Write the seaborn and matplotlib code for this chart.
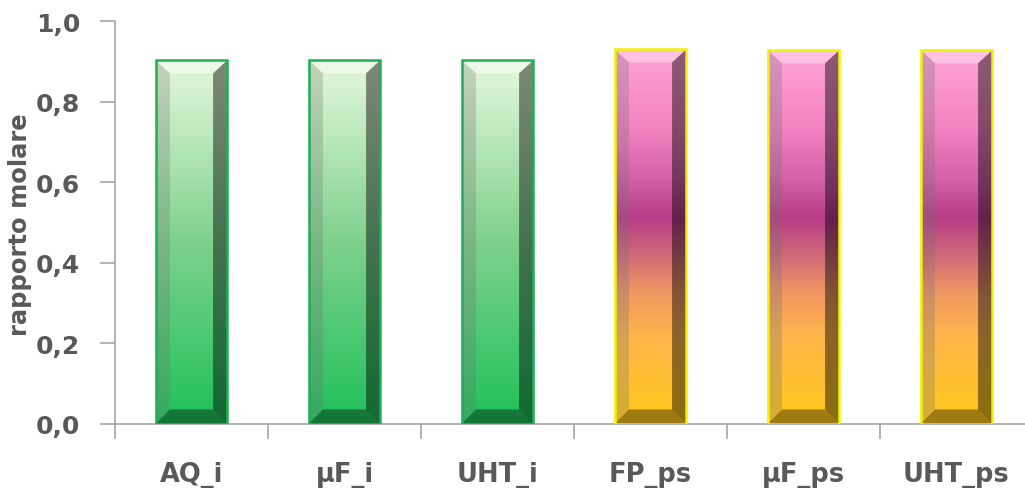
import numpy as np
import pandas as pd
import seaborn as sns
import matplotlib.pyplot as plt
from matplotlib.colors import LinearSegmentedColormap
from matplotlib.patches import Polygon, Rectangle
from matplotlib.ticker import FixedLocator, FuncFormatter

# data
categories = ["AQ_i", "µF_i", "UHT_i", "FP_ps", "µF_ps", "UHT_ps"]
values = [0.903, 0.903, 0.903, 0.930, 0.928, 0.928]
groups = ["i", "i", "i", "ps", "ps", "ps"]

df = pd.DataFrame({"campione": categories, "rapporto": values})

green_cmap = LinearSegmentedColormap.from_list(
    "verde", [(0.0, "#1ec05a"), (0.5, "#7ed18d"), (1.0, "#e6f8dc")])
pink_cmap = LinearSegmentedColormap.from_list(
    "rosa", [(0.0, "#ffc818"), (0.23, "#ffb64a"), (0.35, "#f09862"),
             (0.45, "#d06a78"), (0.55, "#b83c88"), (0.66, "#d562aa"),
             (0.79, "#f282c2"), (1.0, "#ffa4d6")])
edge_col = {"i": "#1db055", "ps": "#f2f200"}
cmaps = {"i": green_cmap, "ps": pink_cmap}

sns.set_style("white")
plt.rcParams['font.family'] = ['DejaVu Sans']
txt = "#595959"

fig = plt.figure(figsize=(10.25, 4.89), dpi=100)
# plot area runs a little past the right edge, as in the reference
ax = fig.add_axes([0.1122, 0.131, 0.8956, 0.824])

sns.barplot(data=df, x="campione", y="rapporto", width=0.47, ax=ax,
            color="white", saturation=1, errorbar=None)

grad = np.linspace(0, 1, 256).reshape(-1, 1)
for p, g in zip(ax.patches, groups):
    x0, w, h = p.get_x(), p.get_width(), p.get_height()
    x1 = x0 + w
    p.set_facecolor("none")
    p.set_edgecolor(edge_col[g])
    p.set_linewidth(1.8)
    p.set_zorder(5)
    im = ax.imshow(grad, cmap=cmaps[g], origin="lower", aspect="auto",
                   extent=(x0, x1, 0, h), zorder=2)
    clip = Rectangle((x0, 0), w, h, transform=ax.transData)
    im.set_clip_path(clip)
    dx, dy_top, dy_bot = w * 0.2, 0.033, 0.036
    bevels = [
        ([(x0, h), (x1, h), (x1 - dx, h - dy_top), (x0 + dx, h - dy_top)], "white", 0.35),
        ([(x0, 0), (x0, h), (x0 + dx, h - dy_top), (x0 + dx, dy_bot)], "#707070", 0.28),
        ([(x1, 0), (x1, h), (x1 - dx, h - dy_top), (x1 - dx, dy_bot)], "black", 0.45),
        ([(x0, 0), (x1, 0), (x1 - dx, dy_bot), (x0 + dx, dy_bot)], "black", 0.38),
    ]
    for pts, c, a in bevels:
        ax.add_patch(Polygon(pts, closed=True, facecolor=c, alpha=a,
                             edgecolor="none", zorder=3))

ax.set_xlim(-0.5, len(categories) - 0.5)
ax.set_ylim(0, 1.0)
ax.yaxis.set_major_locator(FixedLocator([0, 0.2, 0.4, 0.6, 0.8, 1.0]))
ax.yaxis.set_major_formatter(FuncFormatter(lambda v, _: f"{v:.1f}".replace(".", ",")))
ax.xaxis.set_minor_locator(FixedLocator(np.arange(-0.5, len(categories), 1.0)))

for s in ["top", "right"]:
    ax.spines[s].set_visible(False)
for s in ["left", "bottom"]:
    ax.spines[s].set_color("#a6a6a6")
    ax.spines[s].set_linewidth(1.2)

ax.tick_params(axis="y", left=True, length=11, width=1.2, color="#a6a6a6",
               labelsize=18, labelcolor=txt, pad=14)
ax.tick_params(axis="x", which="major", bottom=False, labelsize=18.5,
               labelcolor=txt, pad=23)
ax.tick_params(axis="x", which="minor", bottom=True, length=11, width=1.2,
               color="#a6a6a6")
for lab in ax.get_xticklabels() + ax.get_yticklabels():
    lab.set_fontweight("bold")

ax.set_xlabel("")
ax.set_ylabel("rapporto molare", fontsize=17.5, fontweight="bold", color=txt,
              va="center")
ax.yaxis.set_label_coords(-0.103, 0.496)

plt.savefig("out.png", dpi=100)
plt.close()
